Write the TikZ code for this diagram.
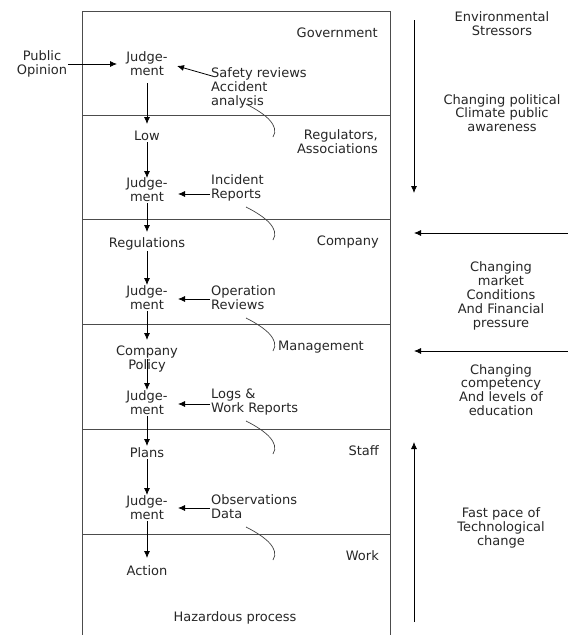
\documentclass[tikz,border=0pt]{standalone}
\usepackage{fontspec}
\setmainfont{DejaVu Sans}
\usetikzlibrary{arrows.meta,calc}
\begin{document}
\begin{tikzpicture}[x=1pt,y=-1pt,
  lbl/.style={inner sep=1pt,align=center,text=black!85,font=\fontsize{13}{13.8}\selectfont},
  lbll/.style={lbl,align=left,anchor=west},
  lblr/.style={lbl,align=right,anchor=east},
  arr/.style={-{Latex[length=7pt,width=6pt]},line width=0.8pt},
  sep/.style={draw=black!70,line width=0.9pt},
  brk/.style={draw=black!75,line width=0.7pt}]
\useasboundingbox (0,0) rectangle (568,635);
% layer frame
\draw[sep] (82,635) -- (82,11) -- (390,11) -- (390,635);
\foreach \y in {115,219,324,429,534} \draw[sep] (82,\y) -- (390,\y);
% layer names
\node[lblr] (gov) at (379,33) {Government};
\node[lblr] (reg) at (379,142) {Regulators,\\Associations};
\node[lblr] (com) at (380,242) {Company};
\node[lbll] (man) at (277,347) {Management};
\node[lblr] (sta) at (380,451) {Staff};
\node[lblr] (wor) at (380,556) {Work};
\node[lbl] (haz) at (235,618) {Hazardous process};
% decision chain
\node[lbl] (pub) at (42,64) {Public\\Opinion};
\node[lbl] (j1) at (147,64) {Judge-\\ment};
\node[lbl] (low) at (147,136) {Low};
\node[lbl] (j2) at (147,190) {Judge-\\ment};
\node[lbl] (regs) at (147,244) {Regulations};
\node[lbl] (j3) at (147,298) {Judge-\\ment};
\node[lbl] (cp) at (147,359) {Company\\Policy};
\node[lbl] (j4) at (147,403) {Judge-\\ment};
\node[lbl] (pla) at (147,453) {Plans};
\node[lbl] (j5) at (147,508) {Judge-\\ment};
\node[lbl] (act) at (147,571) {Action};
% feedback sources
\node[lbll] (saf) at (210,88) {Safety reviews\\Accident\\analysis};
\node[lbll] (inc) at (210,188) {Incident\\Reports};
\node[lbll] (ope) at (210,298) {Operation\\Reviews};
\node[lbll] (log) at (210,402) {Logs \&\\Work Reports};
\node[lbll] (obs) at (210,507) {Observations\\Data};
% downward chain arrows
\draw[arr] (147,83) -- (147,124);
\draw[arr] (low.south) -- (147,178);
\draw[arr] (j2.south) -- (147,232);
\draw[arr] (regs.south) -- (147,285);
\draw[arr] (j3.south) -- (147,340);
\draw[arr] (cp.center) -- (147,390);
\draw[arr] (j4.south) -- (147,446);
\draw[arr] (pla.south) -- (147,495);
\draw[arr] (j5.south) -- (147,558);
% feedback arrows
\draw[arr] (pub.east) -- (117,64);
\draw[arr] (212,76) -- (177,66);
\draw[arr] (inc.west |- 0,194) -- (178,194);
\draw[arr] (ope.west |- 0,299) -- (178,299);
\draw[arr] (log.west |- 0,404) -- (178,404);
\draw[arr] (obs.west |- 0,508) -- (178,508);
% brackets
\foreach \y in {104,207,318,421,527}
  \draw[brk] (246,\y) .. controls (266,\y+10) and (280,\y+22) .. (273,\y+33);
% environmental stressors
\node[lbl] (env) at (502,24) {Environmental\\Stressors};
\node[lbl] (pol) at (502,113) {Changing political\\Climate public\\awareness};
\node[lbl] (mkt) at (501,296) {Changing\\market\\Conditions\\And Financial\\pressure};
\node[lbl] (cmp) at (501,390) {Changing\\competency\\And levels of\\education};
\node[lbl] (tec) at (501,528) {Fast pace of\\Technological\\change};
\coordinate (s1) at (414,20);
\coordinate (e1) at (414,193);
\coordinate (s2) at (568,233);
\coordinate (e2) at (414,233);
\coordinate (s3) at (568,351);
\coordinate (e3) at (414,351);
\coordinate (s4) at (414,622);
\coordinate (e4) at (414,442);
\draw[arr] (s1) -- (e1);
\draw[arr] (s2) -- (e2);
\draw[arr] (s3) -- (e3);
\draw[arr] (s4) -- (e4);
\end{tikzpicture}
\end{document}
